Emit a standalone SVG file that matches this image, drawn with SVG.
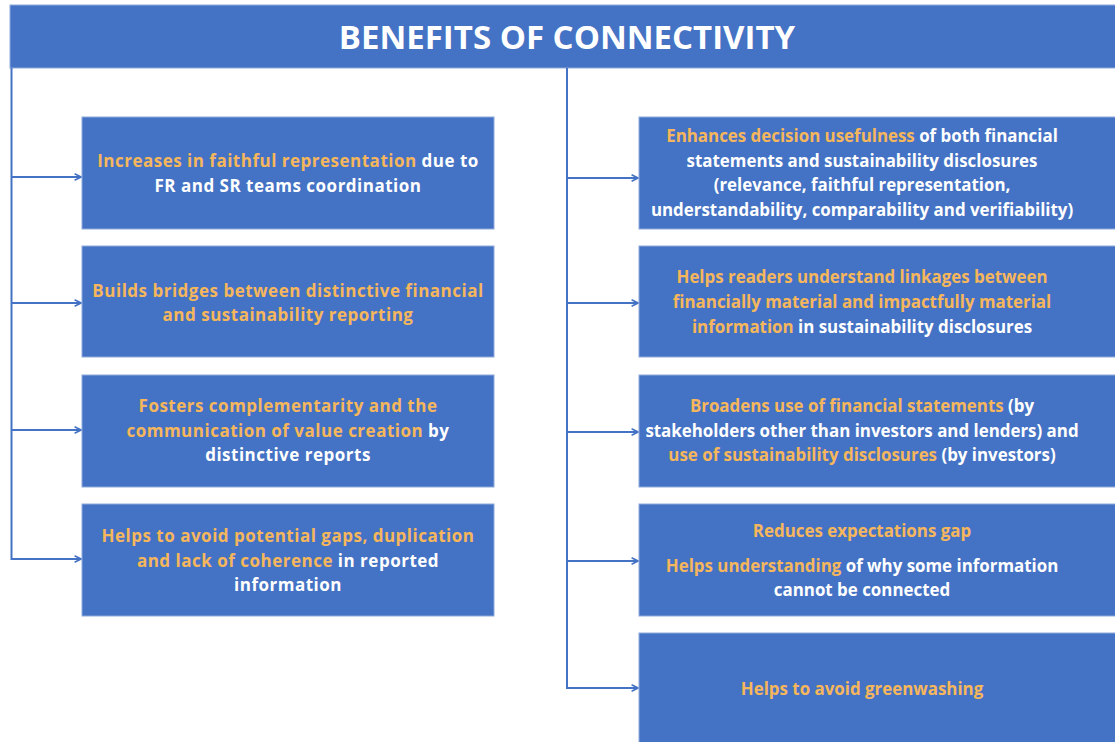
<svg xmlns="http://www.w3.org/2000/svg" width="1115" height="742" viewBox="0 0 1115 742">
  <style>
    .box { fill: #4472C4; stroke: #8FAADC; stroke-width: 1; }
    .t { font-family: "Open Sans", "Liberation Sans", sans-serif; font-weight: bold; font-size: 17px; fill: #FFFFFF; text-anchor: middle; }
    .l { letter-spacing: 0.5px; }
    .r { font-size: 16.9px; }
    .o { fill: #F6B75C; }
    .title { font-family: "Open Sans", "Liberation Sans", sans-serif; font-weight: bold; font-size: 33px; fill: #FFFFFF; text-anchor: middle; }
    .link { fill: none; stroke: #4472C4; stroke-width: 2; }
  </style>
  <defs>
    <marker id="arrow" viewBox="0 0 10 10" refX="9" refY="5" markerWidth="4" markerHeight="4" orient="auto" markerUnits="strokeWidth">
      <path d="M1,1 L9,5 L1,9" fill="none" stroke="#4472C4" stroke-width="2"/>
    </marker>
  </defs>
  <rect width="1115" height="742" fill="#FFFFFF"/>

  <!-- header bar -->
  <g id="header">
    <rect class="box" x="10" y="5" width="1110" height="63"/>
    <text class="title" x="567" y="49">BENEFITS OF CONNECTIVITY</text>
  </g>

  <!-- connectors -->
  <g id="connectors">
    <path class="link" d="M11.5,68 V560"/>
    <path class="link" d="M11.5,177 H81" marker-end="url(#arrow)"/>
    <path class="link" d="M11.5,303 H81" marker-end="url(#arrow)"/>
    <path class="link" d="M11.5,430 H81" marker-end="url(#arrow)"/>
    <path class="link" d="M11.5,559 H81" marker-end="url(#arrow)"/>
    <path class="link" d="M567,68 V689"/>
    <path class="link" d="M567,178 H638" marker-end="url(#arrow)"/>
    <path class="link" d="M567,303 H638" marker-end="url(#arrow)"/>
    <path class="link" d="M567,432 H638" marker-end="url(#arrow)"/>
    <path class="link" d="M567,561 H638" marker-end="url(#arrow)"/>
    <path class="link" d="M567,688 H638" marker-end="url(#arrow)"/>
  </g>

  <!-- left column -->
  <g id="node-faithful">
    <rect class="box" x="82" y="117" width="412" height="112"/>
    <text class="t l" x="288" y="167"><tspan class="o">Increases in faithful representation</tspan> due to</text>
    <text class="t l" x="288" y="192">FR and SR teams coordination</text>
  </g>
  <g id="node-bridges">
    <rect class="box" x="82" y="246" width="412" height="111"/>
    <text class="t l o" x="288" y="297">Builds bridges between distinctive financial</text>
    <text class="t l o" x="288" y="321">and sustainability reporting</text>
  </g>
  <g id="node-complementarity">
    <rect class="box" x="82" y="375" width="412" height="112"/>
    <text class="t l o" x="288" y="412">Fosters complementarity and the</text>
    <text class="t l" x="288" y="437"><tspan class="o">communication of value creation</tspan> by</text>
    <text class="t l" x="288" y="461">distinctive reports</text>
  </g>
  <g id="node-gaps">
    <rect class="box" x="82" y="504" width="412" height="112"/>
    <text class="t l o" x="288" y="542">Helps to avoid potential gaps, duplication</text>
    <text class="t l" x="288" y="567"><tspan class="o">and lack of coherence</tspan> in reported</text>
    <text class="t l" x="288" y="591">information</text>
  </g>

  <!-- right column -->
  <g id="node-usefulness">
    <rect class="box" x="639" y="117" width="490" height="112"/>
    <text class="t r" x="862" y="142"><tspan class="o">Enhances decision usefulness</tspan> of both financial</text>
    <text class="t r" x="862" y="167">statements and sustainability disclosures</text>
    <text class="t r" x="862" y="191">(relevance, faithful representation,</text>
    <text class="t r" x="862" y="216">understandability, comparability and verifiability)</text>
  </g>
  <g id="node-linkages">
    <rect class="box" x="639" y="246" width="490" height="111"/>
    <text class="t r o" x="862" y="283">Helps readers understand linkages between</text>
    <text class="t r o" x="862" y="308">financially material and impactfully material</text>
    <text class="t r" x="862" y="333"><tspan class="o">information</tspan> in sustainability disclosures</text>
  </g>
  <g id="node-broadens">
    <rect class="box" x="639" y="375" width="490" height="112"/>
    <text class="t r" x="862" y="412"><tspan class="o">Broadens use of financial statements</tspan> (by</text>
    <text class="t r" x="862" y="437">stakeholders other than investors and lenders) and</text>
    <text class="t r" x="862" y="461"><tspan class="o">use of sustainability disclosures</tspan> (by investors)</text>
  </g>
  <g id="node-expectations">
    <rect class="box" x="639" y="504" width="490" height="112"/>
    <text class="t r o" x="862" y="537">Reduces expectations gap</text>
    <text class="t r" x="862" y="572"><tspan class="o">Helps understanding</tspan> of why some information</text>
    <text class="t r" x="862" y="596">cannot be connected</text>
  </g>
  <g id="node-greenwashing">
    <rect class="box" x="639" y="633" width="490" height="120"/>
    <text class="t r o" x="862" y="695">Helps to avoid greenwashing</text>
  </g>
</svg>
